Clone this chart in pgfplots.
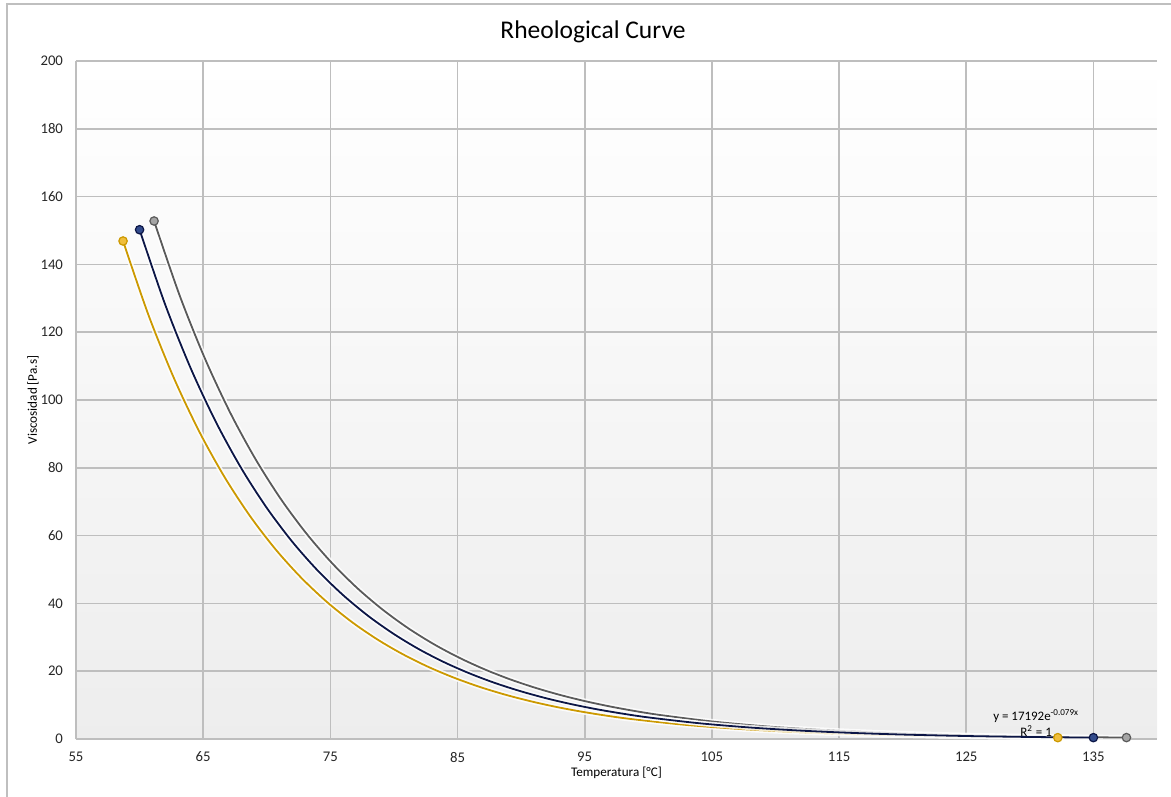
\documentclass[border=0pt]{standalone}
\usepackage{fontspec}
\setmainfont{Carlito}
\usepackage{pgfplots}
\pgfplotsset{compat=1.18}
\definecolor{goldl}{RGB}{204,153,0}
\definecolor{goldm}{RGB}{240,190,60}
\definecolor{navyl}{RGB}{12,22,70}
\definecolor{navym}{RGB}{50,75,140}
\definecolor{grayl}{RGB}{90,90,90}
\definecolor{graym}{RGB}{165,165,165}
\definecolor{gridc}{RGB}{190,190,190}
\begin{document}
\begin{tikzpicture}
\useasboundingbox (-38bp,-29bp) rectangle (547.5bp,369.5bp);
\draw[black!25, line width=1bp] (-34.5bp,-40bp) -- (-34.5bp,367.5bp) -- (560bp,367.5bp);
\node[font=\fontsize{12.8}{15}\selectfont] at (258.5bp,353.5bp) {Rheological Curve};
\begin{axis}[
  at={(0,0)}, anchor=south west,
  scale only axis, width=540.5bp, height=339bp,
  xmin=55, xmax=140, ymin=0, ymax=200,
  xtick={55,65,...,135}, ytick={0,20,...,200},
  axis x line*=bottom, axis y line*=left,
  axis line style={gridc, line width=0.8bp, -},
  grid=major, major grid style={gridc, line width=0.8bp},
  major tick length=0pt,
  axis background/.style={shade, top color=white, bottom color=black!7},
  /pgf/number format/assume math mode=true,
  ticklabel style={font=\fontsize{7.4}{9}\selectfont, text=black!85},
  xticklabel style={yshift=-3bp},
  yticklabel style={xshift=-3bp},
  xlabel={Temperatura [°C]}, ylabel={Viscosidad [Pa.s]},
  label style={font=\fontsize{6.6}{8}\selectfont},
  xlabel style={at={(rel axis cs:0.5,0)}, anchor=center, yshift=-17bp},
  ylabel style={at={(rel axis cs:0,0.5)}, anchor=center, rotate=0, yshift=21.5bp},
  clip=false,
]
% gold series
\addplot[goldl, line width=0.9bp, smooth, preaction={draw=white, line width=2.6bp, opacity=0.8}] coordinates {
(58.7,146.9) (60.7,125.05) (62.7,106.46) (64.7,90.63) (66.7,77.15) (68.7,65.68)
(70.7,55.91) (72.7,47.60) (74.7,40.52) (76.7,34.49) (78.7,29.36) (80.7,25.00)
(82.7,21.28) (84.7,18.12) (86.7,15.42) (88.7,13.13) (90.7,11.18) (92.7,9.51)
(94.7,8.10) (96.7,6.89) (98.7,5.87) (102.7,4.25) (106.7,3.08) (110.7,2.23)
(114.7,1.62) (118.7,1.17) (122.7,0.85) (126.7,0.62) (132.2,0.40)};
% gray series
\addplot[grayl, line width=0.9bp, smooth, preaction={draw=white, line width=2.6bp, opacity=0.8}] coordinates {
(61.14,152.8) (63.14,130.94) (65.14,112.21) (67.14,96.15) (69.14,82.40) (71.14,70.61)
(73.14,60.51) (75.14,51.85) (77.14,44.43) (79.14,38.08) (81.14,32.63) (83.14,27.96)
(85.14,23.96) (87.14,20.53) (89.14,17.59) (91.14,15.08) (93.14,12.92) (95.14,11.07)
(97.14,9.49) (99.14,8.13) (101.14,6.97) (105.14,5.12) (109.14,3.76) (113.14,2.76)
(117.14,2.03) (121.14,1.49) (125.14,1.09) (129.14,0.80) (133.14,0.59) (137.6,0.42)};
% navy series
\addplot[navyl, line width=0.9bp, smooth, preaction={draw=white, line width=2.6bp, opacity=0.8}] coordinates {
(60,150.23) (62,128.28) (64,109.53) (66,93.52) (68,79.85) (70,68.18) (72,58.22)
(74,49.71) (76,42.45) (78,36.24) (80,30.95) (82,26.42) (84,22.56) (86,19.27)
(88,16.45) (90,14.05) (92,11.99) (94,10.24) (96,8.74) (98,7.47) (100,6.37)
(104,4.65) (108,3.39) (112,2.47) (116,1.80) (120,1.31) (125,0.88) (130,0.60) (135,0.40)};
% end markers
\addplot[only marks, mark=*, mark size=2.1bp, draw=goldl, fill=goldm, line width=0.6bp] coordinates {(58.7,146.9) (132.2,0.40)};
\addplot[only marks, mark=*, mark size=2.1bp, draw=navyl, fill=navym, line width=0.6bp] coordinates {(60,150.23) (135,0.40)};
\addplot[only marks, mark=*, mark size=2.1bp, draw=grayl, fill=graym, line width=0.6bp] coordinates {(61.14,152.8) (137.6,0.42)};
\node[font=\fontsize{6.5}{7.5}\selectfont] at (axis cs:130.5,6.8) {y = 17192e\textsuperscript{-0.079x}};
\node[font=\fontsize{6.5}{7.5}\selectfont] at (axis cs:130.5,2.4) {R\textsuperscript{2} = 1};
\end{axis}
\end{tikzpicture}
\end{document}
